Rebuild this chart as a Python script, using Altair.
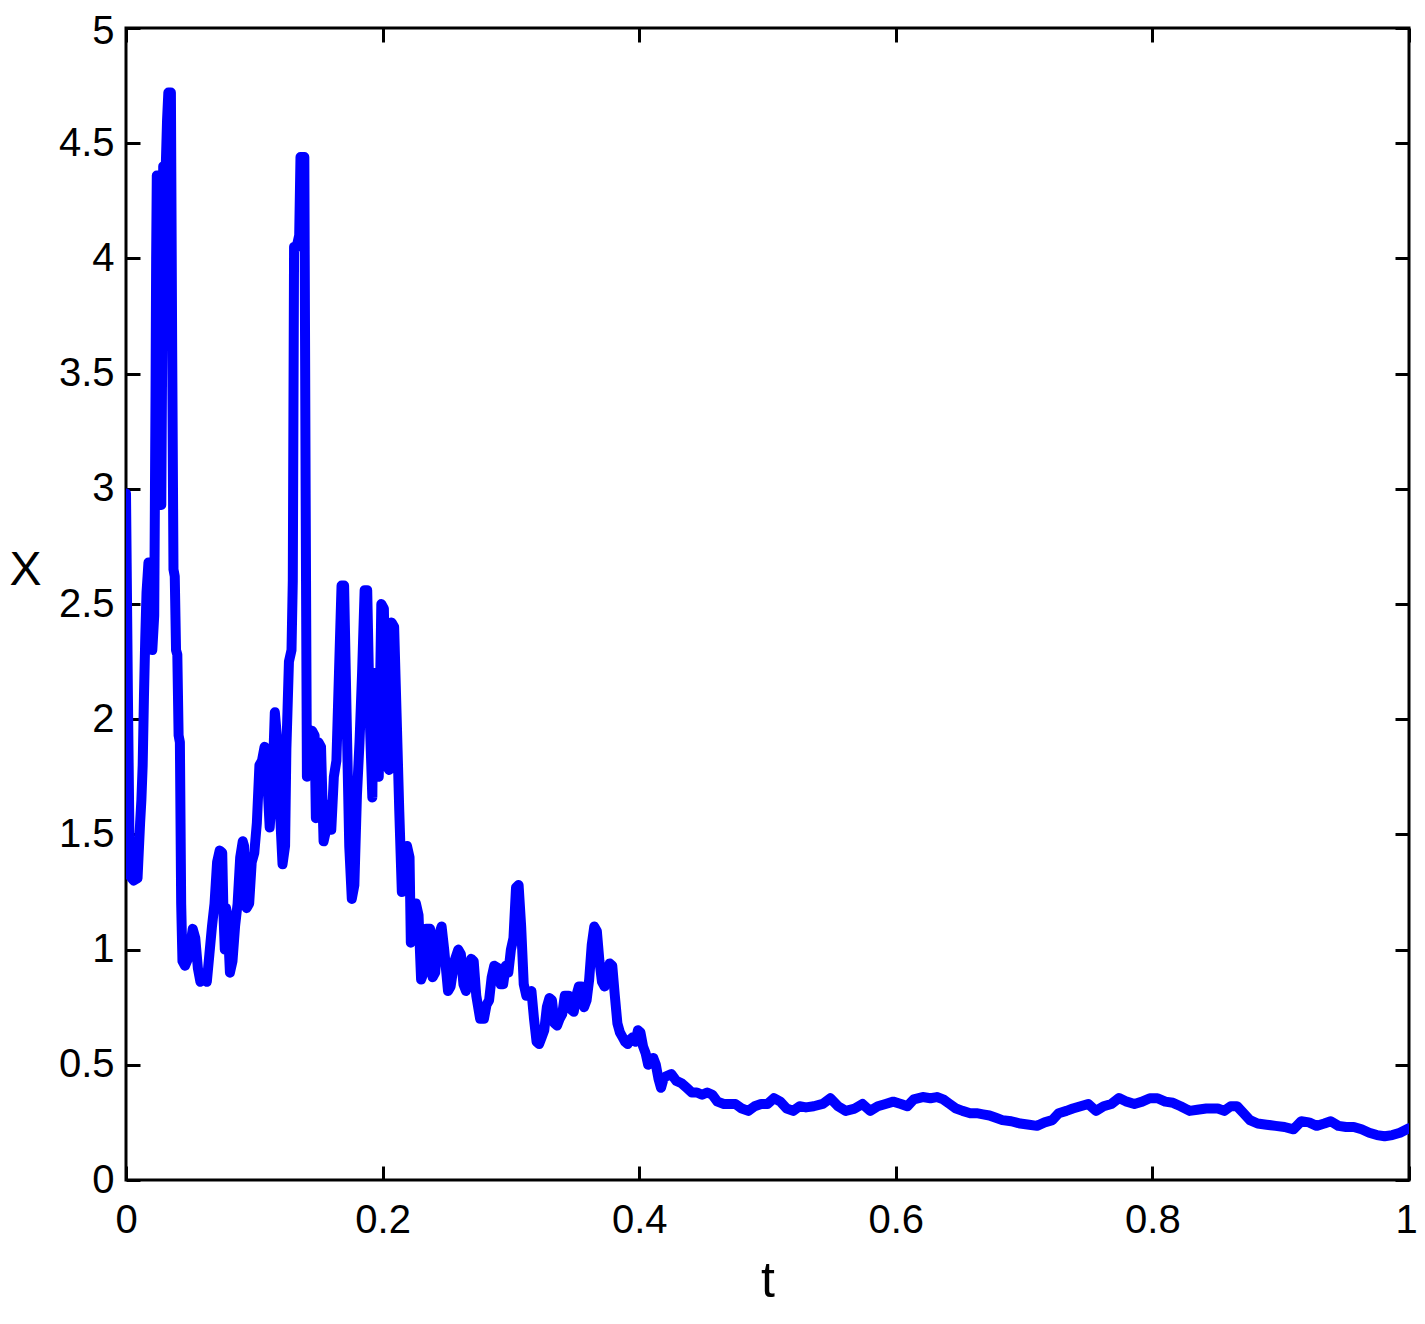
import altair as alt
import pandas as pd

# time samples (t) and state values (X)
t_vals = [
    0.000, 0.0015, 0.003, 0.006, 0.009, 0.011, 0.012, 0.013, 0.014, 0.015,
    0.016, 0.0175, 0.019, 0.0205, 0.022, 0.023, 0.0235, 0.024, 0.026, 0.027,
    0.0275, 0.028, 0.029, 0.031, 0.032, 0.033, 0.035, 0.036, 0.037, 0.038,
    0.039, 0.040, 0.041, 0.042, 0.043, 0.044, 0.046, 0.049, 0.052, 0.054,
    0.056, 0.058, 0.061, 0.063, 0.065, 0.067, 0.069, 0.071, 0.073, 0.075,
    0.076, 0.077, 0.078, 0.079, 0.081, 0.083, 0.085, 0.087, 0.089, 0.091,
    0.092, 0.093, 0.094, 0.096, 0.098, 0.100, 0.102, 0.104, 0.106, 0.108,
    0.110, 0.112, 0.114, 0.116, 0.118, 0.120, 0.122, 0.124, 0.125, 0.127,
    0.129, 0.130, 0.131, 0.133, 0.135, 0.136, 0.139, 0.140, 0.141, 0.143,
    0.145, 0.147, 0.148, 0.150, 0.152, 0.154, 0.156, 0.158, 0.160, 0.162,
    0.164, 0.166, 0.168, 0.170, 0.172, 0.174, 0.176, 0.178, 0.180, 0.182,
    0.184, 0.186, 0.188, 0.190, 0.192, 0.193, 0.194, 0.195, 0.197, 0.199,
    0.201, 0.203, 0.205, 0.207, 0.209, 0.211, 0.213, 0.215, 0.217, 0.219,
    0.221, 0.222, 0.224, 0.226, 0.228, 0.230, 0.232, 0.234, 0.237, 0.239,
    0.241, 0.243, 0.246, 0.248, 0.251, 0.253, 0.256, 0.259, 0.261, 0.263,
    0.265, 0.267, 0.269, 0.271, 0.273, 0.276, 0.279, 0.281, 0.283, 0.285,
    0.287, 0.290, 0.292, 0.294, 0.296, 0.298, 0.300, 0.302, 0.304, 0.306,
    0.308, 0.310, 0.312, 0.314, 0.316, 0.318, 0.320, 0.322, 0.324, 0.326,
    0.328, 0.330, 0.332, 0.334, 0.336, 0.338, 0.340, 0.342, 0.345, 0.347,
    0.349, 0.351, 0.353, 0.355, 0.357, 0.359, 0.361, 0.363, 0.365, 0.367,
    0.369, 0.371, 0.373, 0.375, 0.377, 0.379, 0.381, 0.383, 0.385, 0.387,
    0.389, 0.391, 0.393, 0.395, 0.397, 0.399, 0.401, 0.403, 0.405, 0.407,
    0.409, 0.411, 0.413, 0.415, 0.417, 0.419, 0.421, 0.425, 0.429, 0.433,
    0.437, 0.441, 0.445, 0.449, 0.453, 0.457, 0.461, 0.466, 0.471, 0.475,
    0.480, 0.485, 0.490, 0.495, 0.500, 0.505, 0.510, 0.515, 0.520, 0.525,
    0.530, 0.536, 0.543, 0.549, 0.555, 0.561, 0.568, 0.574, 0.580, 0.586,
    0.592, 0.598, 0.604, 0.609, 0.614, 0.621, 0.627, 0.632, 0.637, 0.642,
    0.647, 0.652, 0.658, 0.663, 0.668, 0.673, 0.678, 0.683, 0.690, 0.697,
    0.704, 0.710, 0.716, 0.722, 0.727, 0.733, 0.738, 0.744, 0.750, 0.756,
    0.762, 0.768, 0.774, 0.780, 0.786, 0.792, 0.798, 0.804, 0.810, 0.816,
    0.822, 0.829, 0.835, 0.842, 0.851, 0.856, 0.861, 0.866, 0.871, 0.876,
    0.882, 0.889, 0.896, 0.903, 0.910, 0.916, 0.922, 0.928, 0.934, 0.939,
    0.945, 0.951, 0.957, 0.963, 0.969, 0.975, 0.981, 0.987, 0.993, 1.000,
]
x_vals = [
    2.98, 2.10, 1.32, 1.30, 1.31, 1.55, 1.65, 1.80, 2.10, 2.35,
    2.55, 2.68, 2.62, 2.30, 2.45, 3.40, 4.00, 4.36, 4.36, 3.50,
    2.93, 3.40, 4.40, 4.40, 4.60, 4.72, 4.72, 3.60, 2.65, 2.62,
    2.30, 2.28, 1.93, 1.90, 1.20, 0.95, 0.93, 0.97, 1.09, 1.05,
    0.92, 0.86, 0.88, 0.86, 0.98, 1.10, 1.20, 1.38, 1.43, 1.42,
    1.15, 1.00, 1.18, 1.15, 0.90, 0.95, 1.10, 1.20, 1.40, 1.47,
    1.45, 1.22, 1.18, 1.20, 1.38, 1.42, 1.55, 1.80, 1.82, 1.88,
    1.75, 1.53, 1.70, 2.03, 1.90, 1.60, 1.37, 1.45, 1.87, 2.25,
    2.30, 2.60, 4.05, 4.05, 4.10, 4.44, 4.44, 3.00, 1.75, 1.77,
    1.95, 1.93, 1.57, 1.90, 1.88, 1.47, 1.52, 1.63, 1.52, 1.75,
    1.82, 2.20, 2.58, 2.58, 2.00, 1.45, 1.22, 1.28, 1.67, 1.90,
    2.20, 2.56, 2.56, 2.00, 1.66, 2.20, 2.20, 1.80, 1.75, 2.50,
    2.48, 1.80, 1.78, 2.42, 2.40, 2.00, 1.60, 1.25, 1.27, 1.45,
    1.40, 1.03, 1.05, 1.20, 1.15, 0.87, 0.90, 1.09, 1.09, 0.88,
    0.90, 1.05, 1.10, 1.00, 0.82, 0.84, 0.95, 1.00, 0.98, 0.85,
    0.82, 0.90, 0.96, 0.95, 0.80, 0.70, 0.70, 0.76, 0.78, 0.88,
    0.93, 0.92, 0.85, 0.85, 0.93, 0.90, 1.00, 1.05, 1.27, 1.28,
    1.10, 0.85, 0.80, 0.80, 0.82, 0.70, 0.60, 0.59, 0.62, 0.65,
    0.75, 0.79, 0.78, 0.68, 0.67, 0.70, 0.72, 0.80, 0.80, 0.74,
    0.73, 0.80, 0.84, 0.84, 0.75, 0.78, 0.87, 1.02, 1.10, 1.08,
    0.95, 0.86, 0.84, 0.90, 0.94, 0.93, 0.80, 0.68, 0.64, 0.62,
    0.60, 0.59, 0.61, 0.62, 0.60, 0.65, 0.64, 0.58, 0.55, 0.50,
    0.52, 0.53, 0.50, 0.44, 0.40, 0.44, 0.45, 0.46, 0.43, 0.42,
    0.40, 0.38, 0.38, 0.37, 0.38, 0.37, 0.34, 0.33, 0.33, 0.33,
    0.31, 0.30, 0.32, 0.33, 0.33, 0.355, 0.34, 0.31, 0.30, 0.32,
    0.315, 0.32, 0.33, 0.355, 0.32, 0.30, 0.31, 0.33, 0.30, 0.32,
    0.33, 0.34, 0.33, 0.32, 0.35, 0.36, 0.355, 0.36, 0.35, 0.33,
    0.31, 0.30, 0.29, 0.29, 0.285, 0.28, 0.27, 0.26, 0.255, 0.245,
    0.24, 0.235, 0.25, 0.26, 0.29, 0.30, 0.31, 0.32, 0.33, 0.30,
    0.32, 0.33, 0.356, 0.34, 0.33, 0.34, 0.355, 0.355, 0.34, 0.335,
    0.32, 0.30, 0.305, 0.31, 0.31, 0.30, 0.32, 0.32, 0.29, 0.26,
    0.245, 0.24, 0.235, 0.23, 0.22, 0.255, 0.25, 0.235, 0.245, 0.255,
    0.235, 0.23, 0.23, 0.22, 0.205, 0.195, 0.19, 0.195, 0.205, 0.225,
]

x_ticks = [0, 0.2, 0.4, 0.6, 0.8, 1]
y_ticks = [0, 0.5, 1, 1.5, 2, 2.5, 3, 3.5, 4, 4.5, 5]

df = pd.DataFrame({"t": t_vals, "X": x_vals})

FONT = "Liberation Sans"
TICK = 14

xscale = alt.Scale(domain=[0, 1], nice=False, zero=False)
yscale = alt.Scale(domain=[0, 5], nice=False, zero=False)

# layer with labels and titles (no ticks)
main = alt.Chart(df).mark_line(
    color="#0000FF", strokeWidth=10, strokeJoin="round", strokeCap="round", clip=True
).encode(
    x=alt.X("t:Q", scale=xscale, axis=alt.Axis(
        orient="bottom", values=x_ticks, format="~g", ticks=False, tickSize=0,
        domain=False, grid=False, labelPadding=20, labelFontSize=40, labelFont=FONT,
        labelColor="black", labelFlush=False, labelOverlap=False,
        labelOffset={"expr": "datum.value == 1 ? -3 : 0"},
        title="t", titleFont=FONT, titleFontSize=50, titleFontWeight="normal",
        titleColor="black", titleBaseline="alphabetic", titleY=116)),
    y=alt.Y("X:Q", scale=yscale, axis=alt.Axis(
        orient="left", values=y_ticks, format="~g", ticks=False, tickSize=0,
        domain=False, grid=False, labelPadding=12, labelFontSize=40, labelFont=FONT,
        labelColor="black", labelFlush=False, labelOverlap=False,
        labelOffset={"expr": "datum.value == 5 ? 3 : 0"},
        title="X", titleFont=FONT, titleFontSize=48, titleFontWeight="normal",
        titleColor="black", titleAngle=0, titleAlign="center",
        titleBaseline="middle", titleX=-101, titleY=542)),
    order=alt.Order("t:Q"),
)

def tick_axis(orient, vals):
    return alt.Axis(
        orient=orient, values=vals, labels=False, ticks=True, tickSize=TICK,
        tickWidth=3, tickColor="black", domain=False, grid=False,
        offset=-TICK, title=None)

ticks_bl = alt.Chart(df).mark_line(opacity=0).encode(
    x=alt.X("t:Q", scale=xscale, axis=tick_axis("bottom", x_ticks)),
    y=alt.Y("X:Q", scale=yscale, axis=tick_axis("left", y_ticks)),
)
ticks_tr = alt.Chart(df).mark_line(opacity=0).encode(
    x=alt.X("t:Q", scale=xscale, axis=tick_axis("top", x_ticks)),
    y=alt.Y("X:Q", scale=yscale, axis=tick_axis("right", y_ticks)),
)

chart = alt.layer(ticks_bl, ticks_tr, main).resolve_axis(
    x="independent", y="independent"
).properties(
    width=1283, height=1152,
    autosize=alt.AutoSizeParams(type="none"),
    padding={"left": 118, "top": 20, "right": 8, "bottom": 130},
    background="white",
).configure_view(
    stroke="black", strokeWidth=3
)

chart.save("out.html", embed_options={"renderer": "svg", "actions": False})
